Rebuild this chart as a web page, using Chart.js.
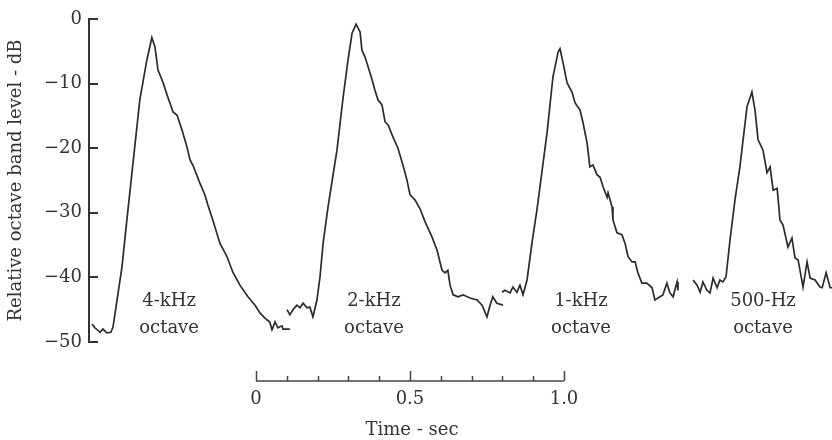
<!DOCTYPE html>
<html>
<head>
<meta charset="utf-8">
<script src="https://cdn.jsdelivr.net/npm/chart.js@4.4.1/dist/chart.umd.min.js"></script>
<style>
  html, body { margin: 0; padding: 0; background: #fff; }
</style>
</head>
<body>
<canvas id="courbes" width="832" height="440"></canvas>
<script>
// Temps (s) et niveau relatif (dB) lus sur chaque courbe
const temps4k = [-0.532, -0.523, -0.506, -0.497, -0.484, -0.471, -0.464, -0.451, -0.435, -0.419, -0.377, -0.354, -0.338,
  -0.328, -0.318, -0.302, -0.286, -0.269, -0.256, -0.240, -0.224, -0.214, -0.205, -0.182, -0.166, -0.156, -0.143,
  -0.117, -0.094, -0.075, -0.052, -0.026, -0.003, 0.013, 0.029, 0.045, 0.052, 0.062, 0.071, 0.084, 0.088, 0.110];
const niveau4k = [-47.2, -47.8, -48.5, -48.0, -48.6, -48.5, -47.7, -43.5, -38.4, -31.1, -12.5, -6.3, -2.9,
  -4.3, -7.9, -9.8, -12.1, -14.4, -14.9, -17.2, -19.8, -21.8, -22.6, -25.4, -27.2, -28.8, -30.7,
  -34.7, -36.8, -39.2, -41.2, -43.0, -44.3, -45.5, -46.3, -46.9, -48.1, -46.9, -47.8, -47.5, -48.0, -48.0];

const temps2k = [0.101, 0.110, 0.120, 0.133, 0.143, 0.153, 0.166, 0.175, 0.185, 0.198, 0.208, 0.218, 0.234, 0.263,
  0.282, 0.299, 0.312, 0.325, 0.338, 0.344, 0.354, 0.364, 0.377, 0.386, 0.396, 0.409, 0.419, 0.429, 0.445, 0.461,
  0.477, 0.490, 0.500, 0.516, 0.532, 0.549, 0.571, 0.588, 0.604, 0.614, 0.623, 0.630, 0.640, 0.656, 0.672, 0.695,
  0.718, 0.734, 0.750, 0.760, 0.769, 0.782, 0.802];
const niveau2k = [-45.0, -45.8, -45.0, -44.3, -44.7, -44.0, -44.7, -44.6, -46.1, -43.5, -39.9, -34.7, -29.1, -20.3,
  -12.5, -6.3, -2.2, -0.8, -2.0, -4.8, -5.9, -7.4, -9.4, -11.0, -12.5, -13.3, -15.9, -16.4, -18.3, -20.0,
  -22.6, -24.9, -27.2, -28.0, -29.3, -31.4, -33.7, -35.8, -38.9, -39.3, -38.9, -41.2, -42.7, -43.0, -42.7, -43.2,
  -43.5, -44.3, -46.1, -44.3, -43.0, -44.0, -44.3];

const temps1k = [0.799, 0.808, 0.825, 0.834, 0.847, 0.857, 0.867, 0.880, 0.896, 0.912, 0.922, 0.945, 0.964, 0.981,
  0.987, 0.997, 1.010, 1.026, 1.036, 1.052, 1.062, 1.075, 1.084, 1.094, 1.107, 1.117, 1.127, 1.140, 1.143, 1.156,
  1.159, 1.172, 1.188, 1.198, 1.208, 1.221, 1.231, 1.240, 1.253, 1.269, 1.286, 1.295, 1.305, 1.321, 1.334, 1.344,
  1.354, 1.367, 1.370];
const niveau1k = [-42.3, -42.0, -42.4, -41.5, -42.3, -41.2, -42.7, -40.4, -34.7, -29.6, -26.0, -17.6, -9.0, -5.1,
  -4.6, -6.8, -9.9, -11.3, -13.0, -14.1, -16.1, -19.2, -22.9, -22.6, -24.1, -24.5, -26.0, -27.6, -26.9, -29.1,
  -31.1, -33.1, -33.4, -34.7, -36.8, -37.6, -37.6, -39.3, -40.9, -40.9, -41.6, -43.5, -43.2, -42.7, -40.9, -42.4,
  -43.0, -40.7, -42.0];

const temps500 = [1.419, 1.432, 1.442, 1.451, 1.464, 1.474, 1.484, 1.497, 1.506, 1.516, 1.526, 1.539, 1.555, 1.571,
  1.594, 1.610, 1.620, 1.630, 1.646, 1.659, 1.669, 1.679, 1.692, 1.701, 1.711, 1.727, 1.740, 1.750, 1.760, 1.776,
  1.789, 1.799, 1.815, 1.831, 1.838, 1.851, 1.864, 1.870];
const niveau500 = [-40.4, -41.2, -42.3, -40.7, -42.0, -42.4, -40.1, -41.6, -40.4, -40.7, -39.9, -34.2, -28.0, -22.9,
  -13.6, -11.3, -14.1, -18.7, -20.3, -23.8, -22.9, -26.5, -26.2, -31.1, -31.9, -35.3, -33.9, -37.0, -37.3, -41.5,
  -37.6, -40.1, -40.4, -41.5, -41.6, -39.3, -41.6, -41.6];

// Noms des bandes, graduations et étiquettes de l'échelle de temps
const nomsBandes = ['4-kHz', '2-kHz', '1-kHz', '500-Hz'];
const graduations = [0, 0.1, 0.2, 0.3, 0.4, 0.5, 0.6, 0.7, 0.8, 0.9, 1.0];
const valeursTemps = [0, 0.5, 1.0];
const etiquettesTemps = ['0', '0.5', '1.0'];

// Position des textes des bandes (s, dB)
const tempsTextes = [-0.282, 0.383, 1.055, 1.646];
const niveauLigne1 = -44.5;
const niveauLigne2 = -48.6;

const police = { family: '"DejaVu Serif", serif', size: 18 };
const couleurTexte = '#333';
const couleurTrait = '#2b2b2b';

const series = [
  [temps4k, niveau4k],
  [temps2k, niveau2k],
  [temps1k, niveau1k],
  [temps500, niveau500]
];

// Plugin : barre d'échelle du temps, titre et noms des bandes
const echelleTemps = {
  id: 'echelleTemps',
  afterDraw(chart) {
    const { ctx, chartArea, scales: { x, y } } = chart;
    const yBarre = chartArea.bottom + 39;
    ctx.save();
    ctx.strokeStyle = '#444';
    ctx.lineWidth = 1.5;
    ctx.beginPath();
    ctx.moveTo(x.getPixelForValue(graduations[0]), yBarre);
    ctx.lineTo(x.getPixelForValue(graduations[graduations.length - 1]), yBarre);
    graduations.forEach(v => {
      const px = Math.round(x.getPixelForValue(v)) + 0.5;
      const h = valeursTemps.includes(v) ? 10 : 5;
      ctx.moveTo(px, yBarre);
      ctx.lineTo(px, yBarre - h);
    });
    ctx.stroke();

    ctx.font = '18px "DejaVu Serif", serif';
    ctx.fillStyle = couleurTexte;
    ctx.textAlign = 'center';
    ctx.textBaseline = 'alphabetic';
    const milieu = (x.getPixelForValue(0) + x.getPixelForValue(1)) / 2;
    ctx.fillText('Time - sec', milieu + 2, yBarre + 54);

    nomsBandes.forEach((nom, i) => {
      const px = x.getPixelForValue(tempsTextes[i]);
      ctx.fillText(nom, px, y.getPixelForValue(niveauLigne1));
      ctx.fillText('octave', px, y.getPixelForValue(niveauLigne2));
    });
    ctx.restore();
  }
};

const ctx = document.getElementById('courbes').getContext('2d');
new Chart(ctx, {
  type: 'line',
  data: {
    datasets: series.map(([t, n]) => ({
      data: t.map((v, i) => ({ x: v, y: n[i] })),
      borderColor: couleurTrait,
      borderWidth: 1.7,
      pointRadius: 0,
      tension: 0,
      fill: false
    }))
  },
  options: {
    responsive: false,
    animation: false,
    layout: { padding: { top: 19, right: 0, bottom: 0, left: 0 } },
    plugins: {
      legend: { display: false },
      tooltip: { enabled: false }
    },
    scales: {
      x: {
        type: 'linear',
        min: -0.542,
        max: 1.87,
        grid: { display: false },
        border: { display: false },
        ticks: {
          font: police,
          color: couleurTexte,
          padding: 39,
          maxRotation: 0,
          autoSkip: false,
          callback: (v, i) => etiquettesTemps[i]
        },
        afterBuildTicks: s => { s.ticks = valeursTemps.map(v => ({ value: v })); },
        afterFit: s => { s.height = 98; s.paddingLeft = 0; s.paddingRight = 0; }
      },
      y: {
        min: -50,
        max: 0,
        border: { display: true, color: '#333', width: 2 },
        grid: { drawOnChartArea: false, drawTicks: true, tickLength: -9, color: '#333', lineWidth: 2 },
        ticks: {
          stepSize: 10,
          padding: 16,
          font: police,
          color: couleurTexte,
          callback: v => v === 0 ? '0' : '\u2212' + Math.abs(v)
        },
        title: {
          display: true,
          text: 'Relative octave band level - dB',
          font: police,
          color: couleurTexte,
          padding: { top: 6, bottom: 0 }
        },
        afterFit: s => { s.width = 89; s.paddingTop = 0; s.paddingBottom = 0; }
      }
    }
  },
  plugins: [echelleTemps]
});
</script>
</body>
</html>
